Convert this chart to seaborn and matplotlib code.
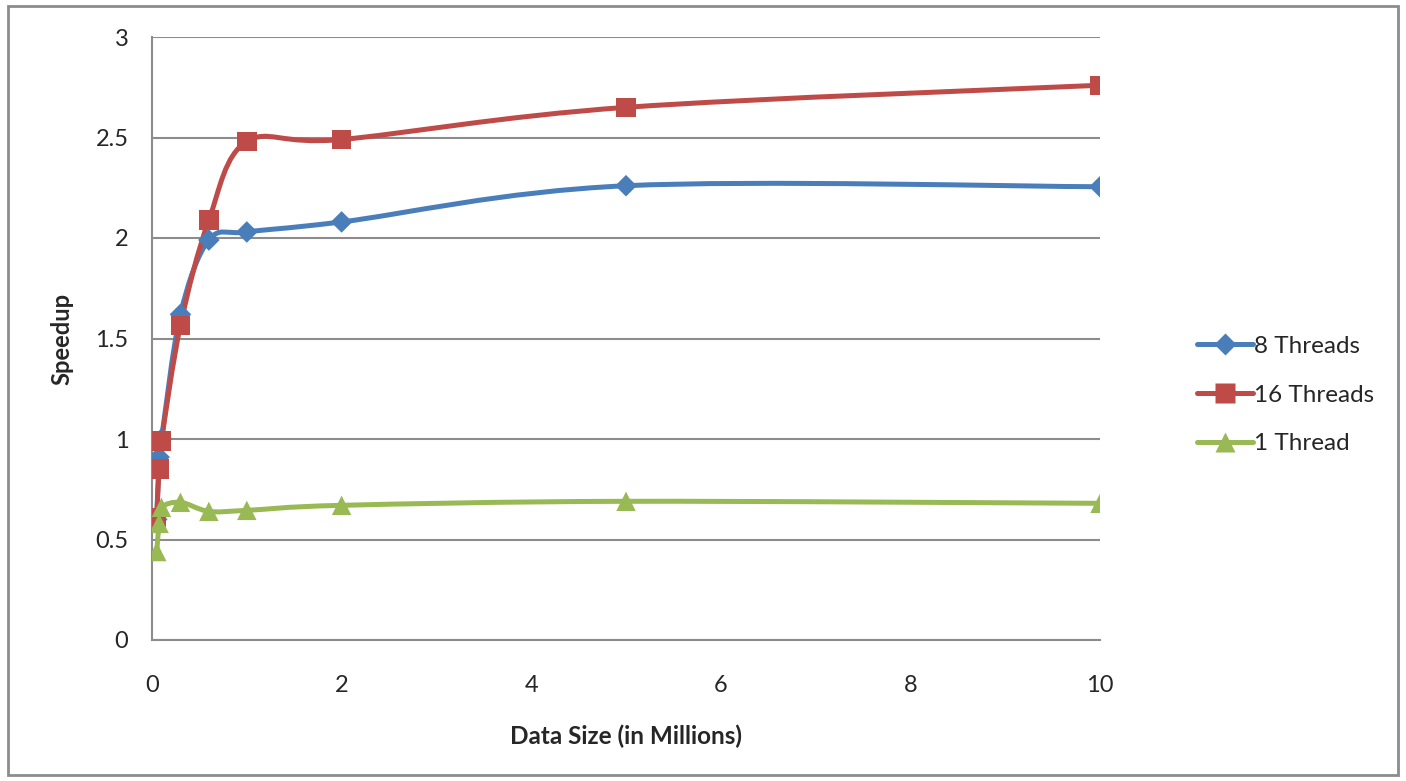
import numpy as np
import pandas as pd
import matplotlib
matplotlib.use("Agg")
import matplotlib.pyplot as plt
from matplotlib.path import Path
from matplotlib.patches import PathPatch, Rectangle
from matplotlib.lines import Line2D
import seaborn as sns

sizes = [0.05, 0.075, 0.1, 0.3, 0.6, 1, 2, 5, 10]
threads8 = [0.60, 0.91, 1.00, 1.62, 1.99, 2.03, 2.08, 2.26, 2.255]
threads16 = [0.61, 0.85, 0.99, 1.565, 2.09, 2.48, 2.49, 2.65, 2.76]
thread1 = [0.44, 0.58, 0.66, 0.685, 0.64, 0.645, 0.67, 0.69, 0.68]

series = ['8 Threads', '16 Threads', '1 Thread']
colors = {'8 Threads': '#4a7ebb', '16 Threads': '#be4b48', '1 Thread': '#98b954'}
markers = {'8 Threads': 'D', '16 Threads': 's', '1 Thread': '^'}
msize = {'8 Threads': 11, '16 Threads': 14, '1 Thread': 14}

df = pd.DataFrame({'size': sizes * 3,
                   'speedup': threads8 + threads16 + thread1,
                   'series': [s for s in series for _ in sizes]})

sns.set_style("white")
plt.rcParams['font.family'] = ['Lato', 'DejaVu Sans']

fig = plt.figure(figsize=(14.06, 7.81), dpi=100)
fig.patches.append(Rectangle((0.006, 0.008), 0.988, 0.984, transform=fig.transFigure,
                             fill=False, edgecolor='#8c8c8c', linewidth=2))
ax = fig.add_axes([152 / 1406, 1 - 640 / 781, 948 / 1406, 603 / 781])

# Excel style smoothed line: bezier through the data points (in screen-like scale)
sx, sy = 948 / 10, 603 / 3


def smooth_path(x, y):
    p = np.column_stack([np.array(x) * sx, np.array(y) * sy])
    verts = [p[0]]
    codes = [Path.MOVETO]
    n = len(p)
    for i in range(n - 1):
        p0 = p[i - 1] if i > 0 else p[i]
        p3 = p[i + 2] if i + 2 < n else p[i + 1]
        c1 = p[i] + (p[i + 1] - p0) / 6
        c2 = p[i + 1] - (p3 - p[i]) / 6
        verts += [c1, c2, p[i + 1]]
        codes += [Path.CURVE4] * 3
    verts = np.array(verts) / [sx, sy]
    return Path(verts, codes)


for s in series:
    sub = df[df['series'] == s]
    ax.add_patch(PathPatch(smooth_path(sub['size'], sub['speedup']), fill=False,
                           edgecolor=colors[s], linewidth=3.6, capstyle='round', zorder=2))
    sns.scatterplot(x=sub['size'], y=sub['speedup'], ax=ax, marker=markers[s],
                    color=colors[s], s=msize[s] ** 2, edgecolor='none', zorder=3,
                    legend=False)

ax.set_xlim(0, 10)
ax.set_ylim(0, 3)
ax.set_xticks([0, 2, 4, 6, 8, 10])
ax.set_yticks([0, 0.5, 1, 1.5, 2, 2.5, 3])
ax.set_yticklabels(['0', '0.5', '1', '1.5', '2', '2.5', '3'])
ax.yaxis.grid(True, color='#8c8c8c', linewidth=1.5)
ax.xaxis.grid(False)
for side in ['top', 'right']:
    ax.spines[side].set_visible(False)
for side in ['left', 'bottom']:
    ax.spines[side].set_color('#8c8c8c')
    ax.spines[side].set_linewidth(1.5)
ax.tick_params(axis='both', direction='out', length=7, width=1.5, color='#8c8c8c',
               labelsize=17)
ax.tick_params(axis='x', pad=18)
ax.tick_params(axis='y', pad=10)
ax.set_xlabel('Data Size (in Millions)', fontsize=17.5, fontweight='bold', labelpad=21)
ax.set_ylabel('Speedup', fontsize=17, fontweight='bold', labelpad=16)

handles = [Line2D([0], [0], color=colors[s], linewidth=3.6, marker=markers[s],
                  markersize=msize[s], markeredgecolor='none') for s in series]
leg = fig.legend(handles, series, loc='center left', bbox_to_anchor=(1175 / 1406, 1 - 395 / 781),
                 frameon=False, fontsize=17.5, handlelength=2.3, handletextpad=0.05,
                 labelspacing=1.15)

fig.savefig('out.png', dpi=100)
